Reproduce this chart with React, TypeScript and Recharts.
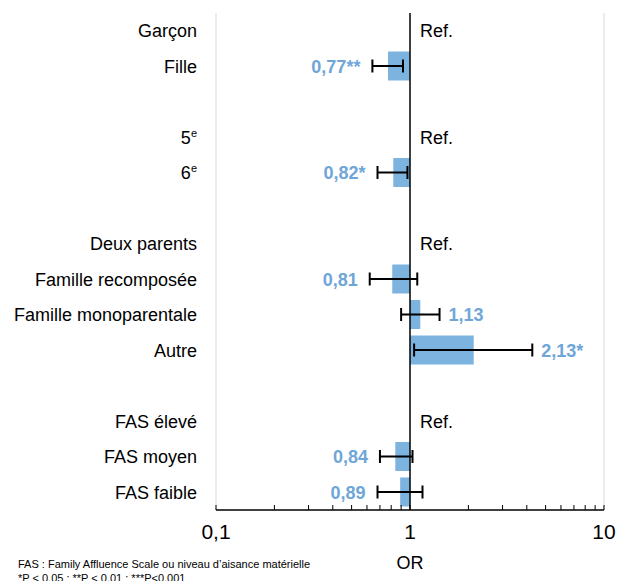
import React from "react";
import { BarChart, Bar, XAxis, YAxis, ReferenceLine, LabelList } from "recharts";

const categories = [
  "Garçon", "Fille", "_b1", "5e", "6e", "_b2", "Deux parents", "Famille recomposée",
  "Famille monoparentale", "Autre", "_b3", "FAS élevé", "FAS moyen", "FAS faible",
];
const isReference = [true, false, false, true, false, false, true, false, false, false, false, true, false, false];
const oddsRatios = [null, 0.77, null, null, 0.82, null, null, 0.81, 1.13, 2.13, null, null, 0.84, 0.89];
const ciLow = [null, 0.64, null, null, 0.68, null, null, 0.62, 0.9, 1.05, null, null, 0.7, 0.68];
const ciHigh = [null, 0.92, null, null, 0.97, null, null, 1.09, 1.42, 4.27, null, null, 1.03, 1.16];
const significance = ["", "**", "", "", "*", "", "", "", "", "*", "", "", "", ""];
const xTicks = [0.1, 0.2, 0.3, 0.4, 0.5, 0.6, 0.7, 0.8, 0.9, 1, 2, 3, 4, 5, 6, 7, 8, 9, 10];
const majorTickLabels: Record<string, string> = { "0.1": "0,1", "1": "1", "10": "10" };

const FONT = "'Liberation Sans', Arial, sans-serif";
const BAR_COLOR = "#7DB3DF";
const LABEL_COLOR = "#6FA6D8";

const data = categories.map((cat, i) => {
  const or = oddsRatios[i];
  const ref = isReference[i];
  return {
    cat,
    bar: or == null ? null : [Math.min(1, or), Math.max(1, or)],
    ci: ref ? [1, 1] : or == null ? null : [ciLow[i], ciHigh[i]],
    lbl: ref ? "Ref." : or == null ? null : or.toFixed(2).replace(".", ",") + significance[i],
    isRef: ref,
  };
});

const YTick = (props: any) => {
  const { x, y, payload } = props;
  const name: string = payload.value;
  if (name.startsWith("_")) return null;
  const sup = /^\de$/.test(name);
  return (
    <text x={x} y={y + 6.5} textAnchor="end" fontSize={18} fontFamily={FONT} fill="#000">
      {sup ? (
        <>
          {name[0]}
          <tspan fontSize={11} dy={-7}>e</tspan>
        </>
      ) : (
        name
      )}
    </text>
  );
};

const XTick = (props: any) => {
  const { x, y, payload } = props;
  const key = String(payload.value);
  const lbl = majorTickLabels[key];
  return (
    <g>
      <line x1={x} x2={x} y1={y} y2={y - 5} stroke="#000" strokeWidth={1} />
      {lbl ? (
        <text x={x} y={y + 29} textAnchor="middle" fontSize={21} fontFamily={FONT} fill="#000">
          {lbl}
        </text>
      ) : null}
    </g>
  );
};

const ErrorShape = (props: any) => {
  const { x, y, width, height, payload } = props;
  if (!payload || payload.isRef) return <g />;
  const cy = y + height / 2;
  const x2 = x + width;
  return (
    <g stroke="#000" strokeWidth={2}>
      <line x1={x} x2={x2} y1={cy} y2={cy} />
      <line x1={x} x2={x} y1={cy - 6.5} y2={cy + 6.5} />
      <line x1={x2} x2={x2} y1={cy - 6.5} y2={cy + 6.5} />
    </g>
  );
};

const ValueLabel = (props: any) => {
  const vb = props.viewBox || {};
  const x = props.x ?? vb.x;
  const y = props.y ?? vb.y;
  const width = props.width ?? vb.width;
  const height = props.height ?? vb.height;
  const value = props.value;
  if (value == null) return null;
  const cy = y + height / 2;
  if (value === "Ref.") {
    return (
      <text x={x + 10} y={cy + 6.5} fontSize={18} fontFamily={FONT} fill="#000">
        Ref.
      </text>
    );
  }
  const num = parseFloat(String(value).replace(",", "."));
  if (num < 1) {
    return (
      <text x={x - 12} y={cy + 6.5} textAnchor="end" fontSize={18} fontWeight="bold" fontFamily={FONT} fill={LABEL_COLOR}>
        {value}
      </text>
    );
  }
  return (
    <text x={x + width + 9} y={cy + 6.5} textAnchor="start" fontSize={18} fontWeight="bold" fontFamily={FONT} fill={LABEL_COLOR}>
      {value}
    </text>
  );
};

export default function App() {
  return (
    <div style={{ position: "absolute", left: 0, top: 0, width: 619, height: 581, overflow: "hidden", background: "#fff", fontFamily: FONT }}>
      <BarChart
        width={619}
        height={581}
        data={data}
        layout="vertical"
        margin={{ top: 13, right: 15, bottom: 0, left: 0 }}
        barSize={29}
        barGap={-29}
      >
        <XAxis
          type="number"
          scale="log"
          domain={[0.1, 10]}
          allowDataOverflow
          ticks={xTicks}
          interval={0}
          height={71}
          tickLine={false}
          tickSize={0}
          tickMargin={0}
          tick={<XTick />}
          axisLine={{ stroke: "#000", strokeWidth: 1.5 }}
        />
        <YAxis
          type="category"
          dataKey="cat"
          width={216}
          interval={0}
          axisLine={false}
          tickLine={false}
          tickSize={0}
          tickMargin={19}
          tick={<YTick />}
        />
        <ReferenceLine x={0.1} stroke="#D9D9D9" strokeWidth={1} />
        <ReferenceLine x={10} stroke="#D9D9D9" strokeWidth={1} />
        <Bar dataKey="bar" fill={BAR_COLOR} isAnimationActive={false} />
        <Bar dataKey="ci" fill="none" shape={<ErrorShape />} isAnimationActive={false}>
          <LabelList dataKey="lbl" content={<ValueLabel />} />
        </Bar>
        <ReferenceLine x={1} stroke="#000" strokeWidth={1.5} />
      </BarChart>
      <div style={{ position: "absolute", left: 410, top: 554, transform: "translateX(-50%)", fontSize: 18, lineHeight: 1, color: "#000" }}>
        OR
      </div>
      <div style={{ position: "absolute", left: 18, top: 557, fontSize: 11, lineHeight: "14px", color: "#000", whiteSpace: "nowrap" }}>
        <div>FAS : Family Affluence Scale ou niveau d’aisance matérielle</div>
        <div>*P &lt; 0,05 ; **P &lt; 0,01 ; ***P&lt;0,001</div>
      </div>
    </div>
  );
}
